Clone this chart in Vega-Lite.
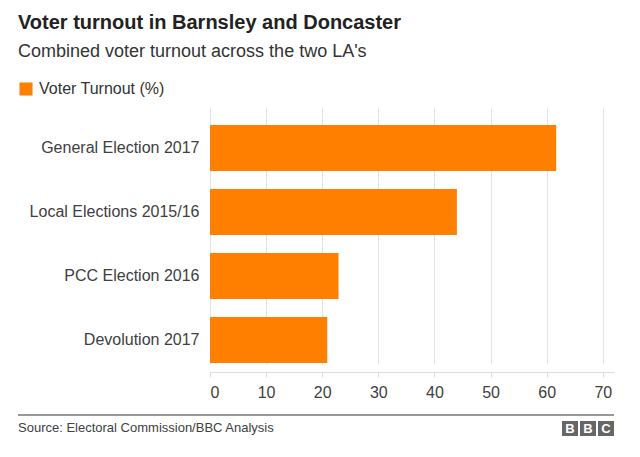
{
  "$schema": "https://vega.github.io/schema/vega-lite/v6.json",
  "width": 404,
  "height": 264,
  "autosize": {"type": "none"},
  "padding": {"left": 210, "top": 108, "right": 26, "bottom": 85},
  "background": "white",
  "config": {
    "font": "Liberation Sans",
    "view": {"stroke": null}
  },
  "title": {
    "text": "Voter turnout in Barnsley and Doncaster",
    "subtitle": "Combined voter turnout across the two LA's",
    "anchor": "start",
    "frame": "group",
    "dx": -192,
    "offset": 20,
    "fontSize": 20,
    "fontWeight": "bold",
    "color": "#222222",
    "subtitleFontSize": 18,
    "subtitleColor": "#333333",
    "subtitlePadding": 10
  },
  "data": {
    "values": [
      {"election": "General Election 2017", "turnout": 61.7, "series": "Voter Turnout (%)"},
      {"election": "Local Elections 2015/16", "turnout": 44.0, "series": "Voter Turnout (%)"},
      {"election": "PCC Election 2016", "turnout": 22.9, "series": "Voter Turnout (%)"},
      {"election": "Devolution 2017", "turnout": 20.9, "series": "Voter Turnout (%)"}
    ]
  },
  "layer": [
    {
      "mark": {"type": "bar"},
      "encoding": {
        "y": {
          "field": "election",
          "type": "nominal",
          "sort": null,
          "scale": {"range": [8, 264], "paddingInner": 0.28, "paddingOuter": 0.14},
          "axis": {
            "title": null,
            "domain": false,
            "ticks": false,
            "labelPadding": 11,
            "labelFontSize": 16,
            "labelColor": "#404040",
            "grid": false
          }
        },
        "x": {
          "field": "turnout",
          "type": "quantitative",
          "scale": {"domain": [0, 72], "nice": false},
          "axis": {
            "title": null,
            "values": [0, 10, 20, 30, 40, 50, 60, 70],
            "grid": true,
            "gridColor": "#e4e4e4",
            "domainColor": "#dddddd",
            "tickColor": "#dddddd",
            "tickSize": 5,
            "labelFontSize": 16,
            "labelColor": "#404040",
            "labelPadding": 7
          }
        },
        "color": {
          "field": "series",
          "type": "nominal",
          "scale": {"range": ["#ff7f00"]},
          "legend": {
            "title": null,
            "orient": "none",
            "legendX": -192,
            "legendY": -27,
            "symbolType": "square",
            "symbolSize": 170,
            "symbolStrokeWidth": 0,
            "labelFontSize": 16,
            "labelColor": "#333333",
            "labelOffset": 5
          }
        }
      }
    },
    {
      "data": {"values": [{}]},
      "mark": {"type": "rule", "color": "#333333", "strokeWidth": 1},
      "encoding": {
        "x": {"value": -192},
        "x2": {"value": 404},
        "y": {"value": 307}
      }
    },
    {
      "data": {"values": [{}]},
      "mark": {"type": "text", "align": "left", "baseline": "alphabetic", "fontSize": 13, "color": "#404040"},
      "encoding": {
        "x": {"value": -192},
        "y": {"value": 324},
        "text": {"value": "Source: Electoral Commission/BBC Analysis"}
      }
    },
    {
      "data": {"values": [{}]},
      "mark": {"type": "rect", "color": "#666666"},
      "encoding": {"x": {"value": 352}, "x2": {"value": 368}, "y": {"value": 313}, "y2": {"value": 328}}
    },
    {
      "data": {"values": [{}]},
      "mark": {"type": "rect", "color": "#666666"},
      "encoding": {"x": {"value": 370}, "x2": {"value": 386}, "y": {"value": 313}, "y2": {"value": 328}}
    },
    {
      "data": {"values": [{}]},
      "mark": {"type": "rect", "color": "#666666"},
      "encoding": {"x": {"value": 388}, "x2": {"value": 404}, "y": {"value": 313}, "y2": {"value": 328}}
    },
    {
      "data": {"values": [{}]},
      "mark": {"type": "text", "align": "center", "baseline": "middle", "fontSize": 13, "fontWeight": "bold", "color": "white"},
      "encoding": {"x": {"value": 360}, "y": {"value": 321}, "text": {"value": "B"}}
    },
    {
      "data": {"values": [{}]},
      "mark": {"type": "text", "align": "center", "baseline": "middle", "fontSize": 13, "fontWeight": "bold", "color": "white"},
      "encoding": {"x": {"value": 378}, "y": {"value": 321}, "text": {"value": "B"}}
    },
    {
      "data": {"values": [{}]},
      "mark": {"type": "text", "align": "center", "baseline": "middle", "fontSize": 13, "fontWeight": "bold", "color": "white"},
      "encoding": {"x": {"value": 396}, "y": {"value": 321}, "text": {"value": "C"}}
    }
  ]
}
